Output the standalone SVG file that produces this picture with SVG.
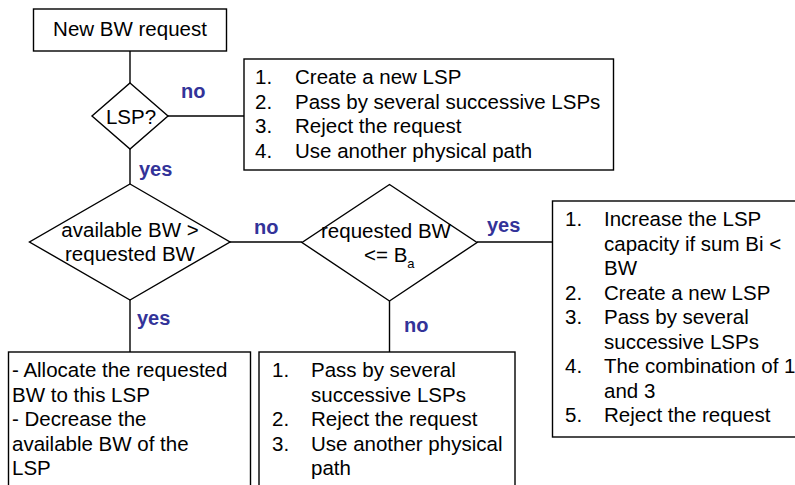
<svg xmlns="http://www.w3.org/2000/svg" width="795" height="485" viewBox="0 0 795 485">
<style>
.bx{fill:#fff;stroke:#000;stroke-width:1.4}
.ln{fill:none;stroke:#000;stroke-width:1.4}
.t{font-family:"Liberation Sans",Arial,sans-serif;font-size:20.5px;fill:#000}
.c{text-anchor:middle}
.lb{font-family:"Liberation Sans",Arial,sans-serif;font-size:20px;font-weight:bold;fill:#333399}
</style>
<rect width="795" height="485" fill="#fff"/>
<g id="connectors">
<line class="ln" x1="130" y1="51" x2="130" y2="83"/>
<line class="ln" x1="168" y1="116" x2="244" y2="116"/>
<line class="ln" x1="130" y1="149" x2="130" y2="184"/>
<line class="ln" x1="230" y1="242" x2="302" y2="242"/>
<line class="ln" x1="477" y1="242" x2="552" y2="242"/>
<line class="ln" x1="130" y1="300" x2="130" y2="352"/>
<line class="ln" x1="389.5" y1="301" x2="389.5" y2="352"/>
<text class="lb" x="181" y="98">no</text>
<text class="lb" x="139" y="176">yes</text>
<text class="lb" x="254" y="234">no</text>
<text class="lb" x="487" y="232">yes</text>
<text class="lb" x="137" y="325">yes</text>
<text class="lb" x="404" y="332">no</text>
</g>
<g id="start">
<rect class="bx" x="33.5" y="9" width="193" height="42"/>
<text class="t c" x="130" y="36">New BW request</text>
</g>
<g id="lsp">
<polygon class="bx" points="130,83 168,116 130,149 92,116"/>
<text class="t c" x="131" y="123.5">LSP?</text>
</g>
<g id="noLsp">
<rect class="bx" x="244" y="59" width="369.5" height="111"/>
<text class="t" y="84"><tspan x="255">1.</tspan><tspan x="295">Create a new LSP</tspan></text>
<text class="t" y="108.5"><tspan x="255">2.</tspan><tspan x="295">Pass by several successive LSPs</tspan></text>
<text class="t" y="133"><tspan x="255">3.</tspan><tspan x="295">Reject the request</tspan></text>
<text class="t" y="157.5"><tspan x="255">4.</tspan><tspan x="295">Use another physical path</tspan></text>
</g>
<g id="availBW">
<polygon class="bx" points="130,184 230,242 130,300 29.5,242"/>
<text class="t c" x="130" y="236.5">available BW &gt;</text>
<text class="t c" x="130" y="261">requested BW</text>
</g>
<g id="reqBW">
<polygon class="bx" points="389.5,184.5 477,242.5 389.5,301 302,242.5"/>
<text class="t c" x="386" y="237.5">requested BW</text>
<text class="t" x="364" y="261.5">&lt;= B<tspan font-size="13" dy="6">a</tspan></text>
</g>
<g id="increase">
<rect class="bx" x="552.5" y="201" width="260" height="236"/>
<text class="t" y="226"><tspan x="565">1.</tspan><tspan x="604">Increase the LSP</tspan></text>
<text class="t" y="250.5"><tspan x="604">capacity if sum Bi &lt;</tspan></text>
<text class="t" y="275"><tspan x="604">BW</tspan></text>
<text class="t" y="299.5"><tspan x="565">2.</tspan><tspan x="604">Create a new LSP</tspan></text>
<text class="t" y="324"><tspan x="565">3.</tspan><tspan x="604">Pass by several</tspan></text>
<text class="t" y="348.5"><tspan x="604">successive LSPs</tspan></text>
<text class="t" y="373"><tspan x="565">4.</tspan><tspan x="604">The combination of 1</tspan></text>
<text class="t" y="397.5"><tspan x="604">and 3</tspan></text>
<text class="t" y="422"><tspan x="565">5.</tspan><tspan x="604">Reject the request</tspan></text>
</g>
<g id="allocate">
<rect class="bx" x="8.5" y="352" width="242" height="150"/>
<text class="t" x="12" y="377">- Allocate the requested</text>
<text class="t" x="12" y="401.5">BW to this LSP</text>
<text class="t" x="12" y="426">- Decrease the</text>
<text class="t" x="12" y="450.5">available BW of the</text>
<text class="t" x="12" y="475">LSP</text>
</g>
<g id="passBy">
<rect class="bx" x="259" y="352" width="256" height="150"/>
<text class="t" y="377"><tspan x="272">1.</tspan><tspan x="311">Pass by several</tspan></text>
<text class="t" y="401.5"><tspan x="311">successive LSPs</tspan></text>
<text class="t" y="426"><tspan x="272">2.</tspan><tspan x="311">Reject the request</tspan></text>
<text class="t" y="450.5"><tspan x="272">3.</tspan><tspan x="311">Use another physical</tspan></text>
<text class="t" y="475"><tspan x="311">path</tspan></text>
</g>
</svg>
